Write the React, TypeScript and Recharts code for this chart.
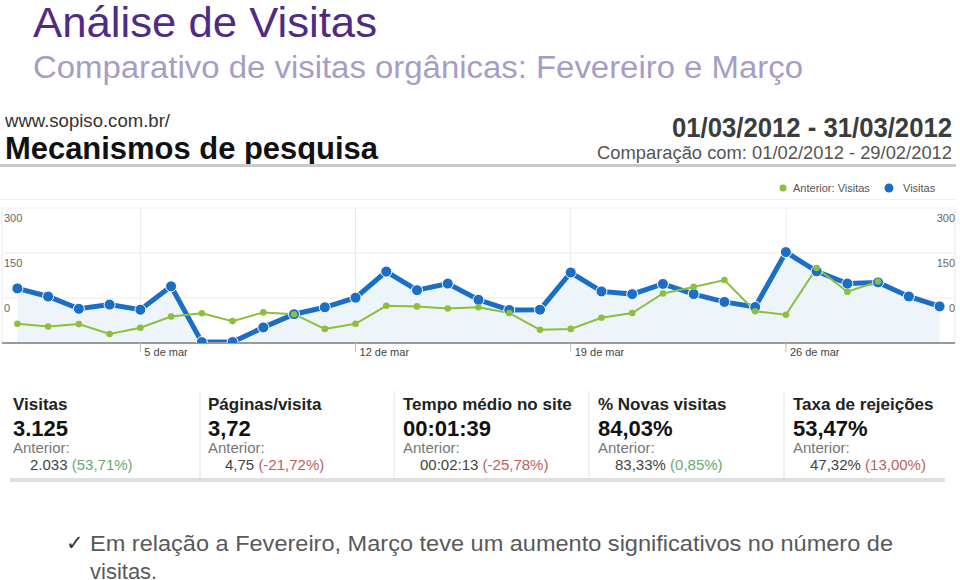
import React from 'react';
import { ComposedChart, Area, Line, XAxis, YAxis, CartesianGrid } from 'recharts';

// ---------- data ----------
const dayLabels = [
  '1 de mar', '2 de mar', '3 de mar', '4 de mar', '5 de mar', '6 de mar', '7 de mar', '8 de mar',
  '9 de mar', '10 de mar', '11 de mar', '12 de mar', '13 de mar', '14 de mar', '15 de mar', '16 de mar',
  '17 de mar', '18 de mar', '19 de mar', '20 de mar', '21 de mar', '22 de mar', '23 de mar', '24 de mar',
  '25 de mar', '26 de mar', '27 de mar', '28 de mar', '29 de mar', '30 de mar', '31 de mar',
];
const visitas = [32, 5, -36, -22, -39, 39, -147, -147, -98, -54, -31, 1, 88, 26, 48, -6, -40, -39, 85, 22, 13, 47, 13, -13, -30, 153, 89, 48, 52, 5, -28];
const anteriorVisitas = [-86, -95, -87, -120, -99, -62, -51, -77, -48, -54, -103, -86, -26, -28, -35, -31, -50, -106, -103, -66, -50, 15, 37, 60, -44, -56, 100, 21, 55, null, null];
const xTicks = ['5 de mar', '12 de mar', '19 de mar', '26 de mar'];
const yTicks = [0, 150, 300];
const yDomain = [-150, 300];
const seriesNames = ['Anterior: Visitas', 'Visitas'];

const kpiLabels = ['Visitas', 'Páginas/visita', 'Tempo médio no site', '% Novas visitas', 'Taxa de rejeições'];
const kpiValues = ['3.125', '3,72', '00:01:39', '84,03%', '53,47%'];
const kpiPrevious = ['2.033', '4,75', '00:02:13', '83,33%', '47,32%'];
const kpiChanges = ['(53,71%)', '(-21,72%)', '(-25,78%)', '(0,85%)', '(13,00%)'];
const kpiGood = [true, false, false, true, false];

const title = 'Análise de Visitas';
const subtitle = 'Comparativo de visitas orgânicas: Fevereiro e Março';
const siteUrl = 'www.sopiso.com.br/';
const reportName = 'Mecanismos de pesquisa';
const dateRange = '01/03/2012 - 31/03/2012';
const compareRange = 'Comparação com: 01/02/2012 - 29/02/2012';
const bulletLine1 = 'Em relação a Fevereiro, Março teve um aumento significativos no número de';
const bulletLine2 = 'visitas.';

// ---------- styles ----------
const FONT = '"Liberation Sans", Arial, sans-serif';
const BLUE = '#1a6ec6';
const GREEN = '#8cbf3c';
const GOOD = '#6aab6a';
const BAD = '#c0605a';

const data = dayLabels.map((d, i) => ({ day: d, visitas: visitas[i], anterior: anteriorVisitas[i] }));

const XTick = (props: any) => {
  const { x, y, payload } = props;
  return (
    <text x={x + 4} y={y + 2} textAnchor="start" fontSize={11} fill="#444" fontFamily={FONT}>
      {payload.value}
    </text>
  );
};

const renderYTick = (side: 'left' | 'right') => (props: any) => {
  const { y, payload } = props;
  const isLeft = side === 'left';
  return (
    <text x={isLeft ? 4 : 955} y={y + 14} textAnchor={isLeft ? 'start' : 'end'} fontSize={11} fill="#666" fontFamily={FONT}>
      {payload.value}
    </text>
  );
};

const colX = [13, 208, 403, 598, 793];
const sepX = [200, 394, 589, 784];

export default function App() {
  return (
    <div style={{ position: 'absolute', left: 0, top: 0, width: 960, height: 580, background: '#fff', overflow: 'hidden' }}>
      <div style={{ position: 'absolute', left: 0, top: 0 }}>
        <ComposedChart width={960} height={380} data={data} margin={{ top: 208, right: 5, bottom: 7, left: 2 }}>
          <CartesianGrid yAxisId="l" stroke="#ebebeb" strokeWidth={1} />
          <XAxis
            dataKey="day"
            ticks={xTicks}
            interval={0}
            height={30}
            padding={{ left: 15.4, right: 15.4 }}
            axisLine={{ stroke: '#9a9a9a', strokeWidth: 2 }}
            tickLine={{ stroke: '#bdbdbd' }}
            tickSize={9}
            tick={<XTick />}
          />
          <YAxis yAxisId="l" mirror domain={yDomain} ticks={yTicks} interval={0} width={40} axisLine={false} tickLine={false} tick={renderYTick('left')} allowDataOverflow />
          <YAxis yAxisId="r" mirror orientation="right" domain={yDomain} ticks={yTicks} interval={0} width={40} axisLine={false} tickLine={false} tick={renderYTick('right')} allowDataOverflow />
          <Area
            yAxisId="l"
            type="linear"
            dataKey="visitas"
            name={seriesNames[1]}
            stroke={BLUE}
            strokeWidth={5}
            fill="#edf5fb"
            fillOpacity={1}
            baseValue="dataMin"
            dot={{ r: 5.5, fill: BLUE, stroke: '#ffffff', strokeWidth: 1 }}
            activeDot={false}
            isAnimationActive={false}
          />
          <Line
            yAxisId="l"
            type="linear"
            dataKey="anterior"
            name={seriesNames[0]}
            stroke={GREEN}
            strokeWidth={2}
            dot={{ r: 3.3, fill: GREEN, stroke: GREEN, strokeWidth: 0 }}
            activeDot={false}
            isAnimationActive={false}
          />
        </ComposedChart>
      </div>
      <svg width={960} height={580} style={{ position: 'absolute', left: 0, top: 0, pointerEvents: 'none' }} fontFamily={FONT}>
        {/* slide title */}
        <text x={33} y={37} fontSize={43} fill="#4f2b85" textLength={344} lengthAdjust="spacingAndGlyphs">{title}</text>
        <text x={33} y={78} fontSize={31} fill="#a69dc6" textLength={770} lengthAdjust="spacingAndGlyphs">{subtitle}</text>

        {/* GA header */}
        <text x={5} y={127} fontSize={19} fill="#333" textLength={165} lengthAdjust="spacingAndGlyphs">{siteUrl}</text>
        <text x={5} y={159} fontSize={32} fontWeight="bold" fill="#111" textLength={373} lengthAdjust="spacingAndGlyphs">{reportName}</text>
        <text x={952} y={137} fontSize={28} fontWeight="bold" fill="#3c3c3c" textAnchor="end" textLength={280} lengthAdjust="spacingAndGlyphs">{dateRange}</text>
        <text x={952} y={159} fontSize={19} fill="#555" textAnchor="end" textLength={355} lengthAdjust="spacingAndGlyphs">{compareRange}</text>
        <rect x={0} y={164} width={956} height={3} fill="#c9c9c9" />
        <line x1={0} x2={956} y1={199.5} y2={199.5} stroke="#efefef" strokeWidth={1} />

        {/* legend */}
        <circle cx={783} cy={188} r={3.5} fill={GREEN} />
        <text x={793} y={192} fontSize={11} fill="#555">{seriesNames[0]}</text>
        <circle cx={889} cy={188} r={4.5} fill={BLUE} />
        <text x={903} y={192} fontSize={11} fill="#555">{seriesNames[1]}</text>

        {/* KPI scorecards */}
        {kpiLabels.map((lab, i) => (
          <g key={lab}>
            <text x={colX[i]} y={410} fontSize={17} fontWeight="bold" fill="#222">{lab}</text>
            <text x={colX[i]} y={436} fontSize={22} fontWeight="bold" fill="#111">{kpiValues[i]}</text>
            <text x={colX[i]} y={453} fontSize={15} fill="#777">Anterior:</text>
            <text x={colX[i] + 17} y={470} fontSize={15} fill="#444">
              {kpiPrevious[i]} <tspan fill={kpiGood[i] ? GOOD : BAD}>{kpiChanges[i]}</tspan>
            </text>
          </g>
        ))}
        {sepX.map((x) => (
          <line key={x} x1={x} x2={x} y1={391} y2={478} stroke="#e2e2e2" strokeWidth={1} />
        ))}
        <rect x={10} y={478} width={935} height={4} fill="#dedede" />

        {/* bullet */}
        <text x={66} y={550} fontSize={21} fill="#333" fontFamily='"DejaVu Sans", sans-serif'>✓</text>
        <text x={90} y={551} fontSize={22} fill="#595959" textLength={803} lengthAdjust="spacingAndGlyphs">{bulletLine1}</text>
        <text x={90} y={579} fontSize={22} fill="#595959">{bulletLine2}</text>
      </svg>
    </div>
  );
}
